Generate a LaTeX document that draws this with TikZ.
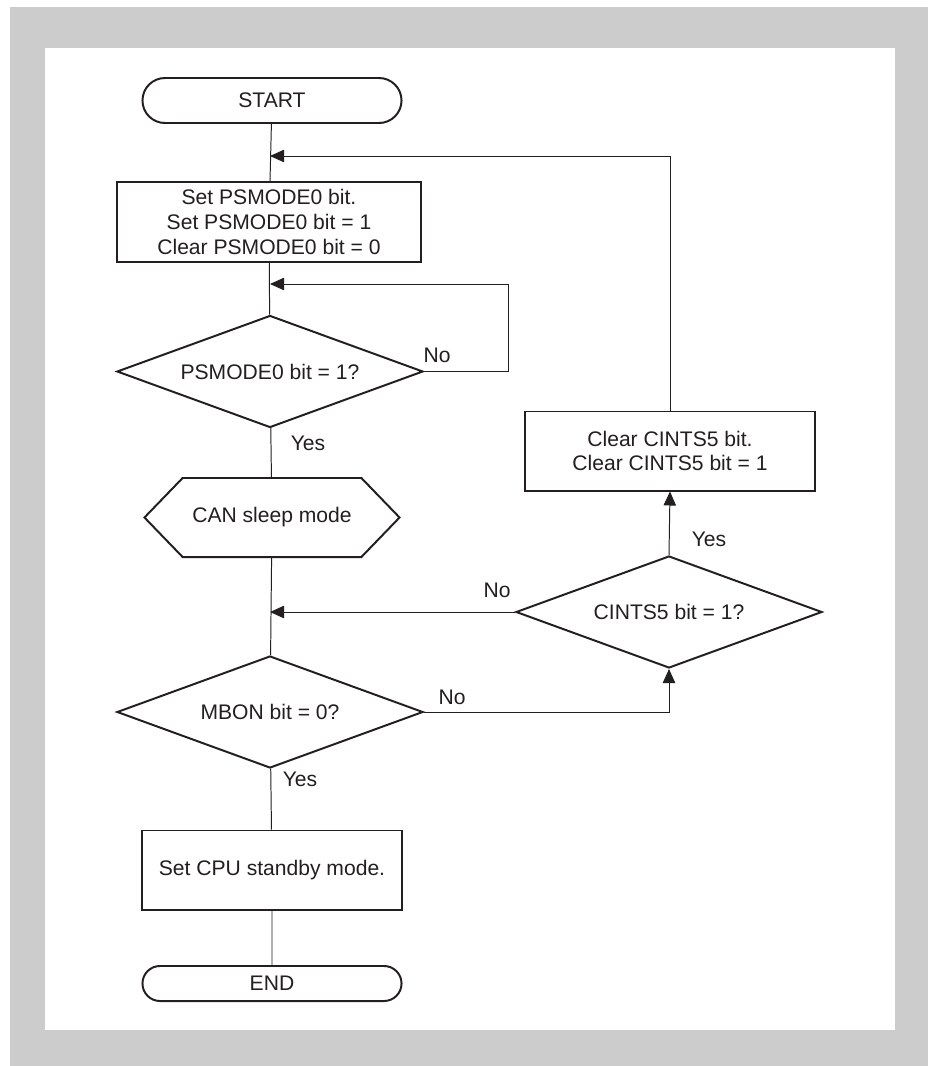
\documentclass[tikz,border=0pt]{standalone}
\usepackage{fontspec}
\setmainfont{Liberation Sans}
\usepackage{xcolor}
\usepackage{tikz}
\usetikzlibrary{shapes.geometric,shapes.misc,shapes.symbols,arrows.meta,positioning}

\definecolor{frame}{HTML}{CCCCCC}
\definecolor{ink}{HTML}{231F20}

\begin{document}
\begin{tikzpicture}[
  x=0.025cm, y=-0.025cm,
  every node/.style={font=\fontsize{15}{17.7}\selectfont, text=ink, align=center},
  term/.style={draw=ink, line width=1.4pt, rounded rectangle, minimum width=6.475cm, inner sep=0pt},
  proc/.style={draw=ink, line width=1.4pt, rectangle, inner sep=0pt},
  dec/.style={draw=ink, line width=1.4pt, diamond, shape aspect=2.7, minimum width=7.65cm, minimum height=2.8cm, inner sep=1pt},
  prep/.style={draw=ink, line width=1.4pt, signal, signal to=west and east, signal pointer angle=92, minimum width=6.375cm, minimum height=1.975cm, inner sep=0pt},
  lbl/.style={inner sep=0pt},
  wire/.style={draw=ink, line width=0.7pt},
  arr/.style={wire, -{Triangle[length=3.5mm, width=3.1mm]}},
  ]
  % frame
  \useasboundingbox (0,0) rectangle (928,1066);
  \fill[frame] (10,7) rectangle (928,1066);
  \fill[white] (45,48) rectangle (895,1030);

  % main column
  \node[term, minimum height=1.125cm] (start) at (272,100.5) {START};
  \node[proc, minimum width=7.6cm, minimum height=2cm] (setps) at (269,222) {Set PSMODE0 bit.\\Set PSMODE0 bit = 1\\Clear PSMODE0 bit = 0};
  \node[dec] (chkps) at (270,371.5) {PSMODE0 bit = 1?};
  \node[prep] (sleep) at (272,517.5) {CAN sleep mode};
  \node[dec] (chkmb) at (270,712) {MBON bit = 0?};
  \node[proc, minimum width=6.475cm, minimum height=1.975cm] (stby) at (272,870) {Set CPU standby mode.};
  \node[term, minimum height=0.875cm] (end) at (272,983.5) {END};

  % right column
  \node[proc, minimum width=7.25cm, minimum height=1.975cm] (clrci) at (670,451) {Clear CINTS5 bit.\\Clear CINTS5 bit = 1};
  \node[dec] (chkci) at (669,612) {CINTS5 bit = 1?};

  % joins on the main line
  \coordinate (j1) at (270,156);
  \coordinate (j2) at (270,284);
  \coordinate (j3) at (270,612);

  \draw[wire] (start) -- (setps);
  \draw[wire] (setps) -- (chkps);
  \draw[wire] (chkps) -- (sleep);
  \draw[wire] (sleep) -- (chkmb);
  \draw[wire] (chkmb) -- (stby);
  \draw[wire] (stby) -- (end);

  \draw[arr] (chkps.east) -- ++(84,0) |- (j2);
  \draw[arr] (clrci.north) |- (j1);
  \draw[arr] (chkci.west) -- (j3);
  \draw[arr] (chkmb.east) -| (chkci.south);
  \draw[arr] (chkci.north) -- (clrci.south);

  % branch labels
  \node[lbl] (nops) at (437,355) {No};
  \node[lbl] (yesps) at (308,443) {Yes};
  \node[lbl] (noci) at (497,590) {No};
  \node[lbl] (yesci) at (709,539) {Yes};
  \node[lbl] (nomb) at (452,697) {No};
  \node[lbl] (yesmb) at (300,779) {Yes};
\end{tikzpicture}
\end{document}
